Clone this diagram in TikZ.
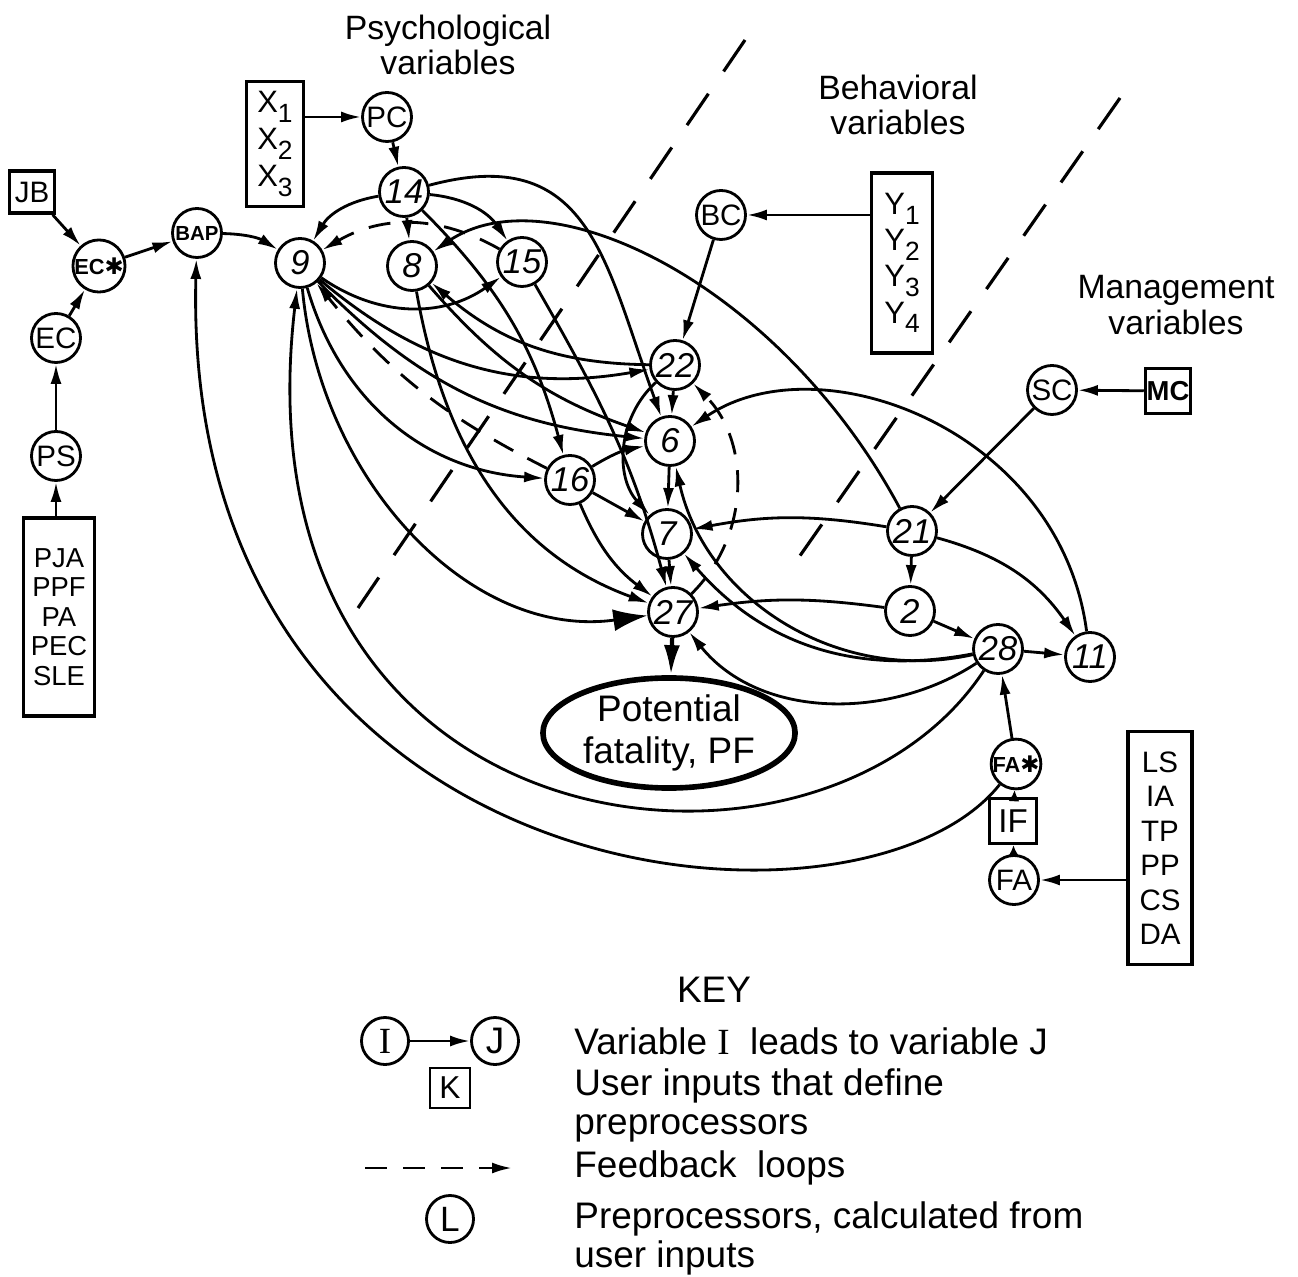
\documentclass[tikz,border=0pt]{standalone}
\usepackage{fontspec}
\setmainfont{Liberation Sans}
\newfontfamily\romanI{Liberation Serif}
\newfontfamily\starfont{DejaVu Sans}
\usetikzlibrary{positioning, calc, shapes.geometric, arrows.meta}
\newcommand{\dn}[1]{\raisebox{-0.6ex}{\fontsize{7.5}{7.5}\selectfont #1}}
\newcommand{\heavystar}{{\starfont\fontsize{6.5}{6.5}\selectfont ✱}}

\begin{document}
\begin{tikzpicture}[x=0.01cm, y=0.01cm, line width=0.8pt,
	>={Latex[length=2mm,width=1.1mm]},
	var/.style={shape=circle, draw=black, minimum size=0.49cm, inner sep=0pt, font=\fontsize{9.8}{9.8}\selectfont\itshape},
	pre/.style={shape=circle, draw=black, minimum size=0.49cm, inner sep=0pt, font=\fontsize{8.4}{8.4}\selectfont},
	prestar/.style={pre, font=\fontsize{6.2}{6.2}\selectfont\bfseries},
	inbox/.style={shape=rectangle, draw=black, line width=1pt, inner sep=0pt, align=center},
	feedback/.style={dash pattern=on 2.2mm off 1.6mm},
	bighead/.style={-{Latex[length=3.4mm,width=2.2mm]}},
	stub/.style={-{Latex[length=1.1mm,width=1.1mm]}},
	heading/.style={align=center, font=\fontsize{9.6}{10}\selectfont},
	keytext/.style={anchor=west, align=left, inner xsep=0pt, font=\fontsize{10.5}{11.1}\selectfont},
	splitter/.style={line width=0.9pt, dash pattern=on 0.38cm off 0.27cm}]

	\useasboundingbox (0,0) rectangle (1298,-1277);

	\node[heading] (psy) at (448,-45) {Psychological\\variables};
	\node[heading] (beh) at (898,-105) {Behavioral\\variables};
	\node[heading] (man) at (1176,-305) {Management\\variables};

	\coordinate (cutAtop) at (745,-40);
	\coordinate (cutAbot) at (358,-608);
	\coordinate (cutBtop) at (1120,-98);
	\coordinate (cutBbot) at (790,-570);
	\draw[splitter] (cutAtop) -- (cutAbot);
	\draw[splitter] (cutBtop) -- (cutBbot);

	\node[pre] (pc) at (387,-117) {PC};
	\node[var] (n14) at (404,-192) {14};
	\node[var] (n9) at (300,-263) {9};
	\node[var] (n8) at (412,-266) {8};
	\node[var] (n15) at (522,-262) {15};
	\node[pre] (bc) at (721,-215) {BC};
	\node[var] (n22) at (675,-365) {22};
	\node[var] (n6) at (670,-441) {6};
	\node[var] (n16) at (570,-480) {16};
	\node[var] (n7) at (667,-534) {7};
	\node[var] (n27) at (673,-612) {27};
	\node[var] (n21) at (912,-531) {21};
	\node[var] (n2) at (910,-611) {2};
	\node[var] (n28) at (998,-649) {28};
	\node[var] (n11) at (1090,-657) {11};
	\node[pre] (sc) at (1052,-390) {SC};
	\node[inbox, minimum width=0.45cm, minimum height=0.45cm, font=\fontsize{7.8}{7.8}\selectfont\bfseries] (mc) at (1168,-391) {MC};
	\node[inbox, minimum width=0.45cm, minimum height=0.42cm, font=\fontsize{8.4}{8.4}\selectfont] (jb) at (32,-192) {JB};
	\node[prestar] (ecs) at (99,-266) {EC\heavystar};
	\node[prestar, font=\fontsize{5.8}{5.8}\selectfont\bfseries] (bap) at (197,-233) {BAP};
	\node[pre] (ec) at (56,-338) {EC};
	\node[pre] (ps) at (56,-456) {PS};
	\node[inbox, minimum width=0.71cm, minimum height=1.98cm, font=\fontsize{7.8}{8.4}\selectfont] (pja) at (59,-617) {PJA\\PPF\\PA\\PEC\\SLE};
	\node[inbox, minimum width=0.57cm, minimum height=1.25cm, font=\fontsize{8.8}{10.5}\selectfont] (xin) at (275,-144) {X\dn{1}\\X\dn{2}\\X\dn{3}};
	\node[inbox, minimum width=0.61cm, minimum height=1.8cm, font=\fontsize{8.8}{10.3}\selectfont] (yin) at (902,-263) {Y\dn{1}\\Y\dn{2}\\Y\dn{3}\\Y\dn{4}};
	\node[inbox, minimum width=0.64cm, minimum height=2.33cm, font=\fontsize{8.4}{9.8}\selectfont] (lsin) at (1160,-848) {LS\\IA\\TP\\PP\\CS\\DA};
	\node[prestar] (fas) at (1016,-764) {FA\heavystar};
	\node[inbox, minimum width=0.47cm, minimum height=0.45cm, font=\fontsize{9.4}{9.4}\selectfont] (iff) at (1013,-821) {IF};
	\node[pre] (fa) at (1014,-880) {FA};
	\node[shape=ellipse, draw=black, line width=1.6pt, minimum width=2.52cm, minimum height=1.1cm, inner sep=0pt, align=center, font=\fontsize{10.5}{11.7}\selectfont] (pf) at (669,-733) {Potential\\fatality, PF};

	\path [->] (xin.east |- pc) edge (pc);
	\path [->] (pc) edge (n14);
	\path [->] (jb) edge (ecs);
	\path [->] (ec) edge (ecs);
	\path [->] (ps) edge (ec);
	\path [->] (ps |- pja.north) edge (ps);
	\path [->] (ecs) edge (bap);
	\path [->] (bap) edge[bend left=15] (n9);
	\path [->] (yin.west |- bc) edge (bc);
	\path [->] (bc) edge (n22);
	\path [->] (mc) edge (sc);
	\path [->] (sc) edge (n21);
	\path [->] (lsin.west |- fa) edge (fa);
	\path [stub] (fa) edge (iff);
	\path [stub] (iff) edge (fas);
	\path [->] (fas) edge (n28);
	\path [-{Latex[length=3mm,width=1.6mm]}, line width=1.2pt] (n27) edge (pf);

	\path [->] (n14) edge[bend right=25] (n9);
	\path [->] (n14) edge (n8);
	\path [->] (n14) edge[bend left=25] (n15);
	\path [->] (n14) edge[bend left=15] (n16);
	\path [->] (n14) edge[out=15, in=110, looseness=1.3] (n6);
	\path [->] (n9) edge[bend right=35] (n15);
	\path [->] (n9) edge[bend right=25] (n22);
	\path [->] (n9) edge[bend right=20] (n6);
	\path [->] (n9) edge[bend right=35] (n16);
	\path [->] (n8) edge[bend right=15] (n6);
	\path [->] (n8) edge[out=-80, in=160] (n27);
	\path [->] (n15) edge[out=-60, in=105] (n27);
	\path [->, feedback] (n15) edge[bend right=30] (n9);
	\path [->, feedback] (n16) edge[bend left=12] (n9);
	\draw [bighead] (n9) .. controls (320,-480) and (470,-640) .. (n27);

	\path [->] (n22) edge (n6);
	\path [->] (n22) edge[bend left=20] (n8);
	\path [->] (n22) edge[bend right=45] (n7);
	\path [->] (n16) edge[bend left=10] (n6);
	\path [->] (n16) edge (n7);
	\path [->] (n16) edge[bend right=15] (n27);
	\path [->] (n6) edge (n7);
	\path [->] (n7) edge (n27);
	\path [->, feedback] (n27) edge[bend right=45] (n22);
	\draw [->] (n21) .. controls (780,-285) and (550,-172) .. (n8);
	\path [->] (n21) edge[bend right=10] (n7);
	\path [->] (n21) edge (n2);
	\path [->] (n21) edge[bend left=20] (n11);
	\path [->] (n2) edge[bend right=8] (n27);
	\path [->] (n2) edge (n28);
	\path [->] (n28) edge (n11);
	\path [->] (n28) edge[bend left=30] (n7);
	\path [->] (n28) edge[bend left=45] (n6);
	\draw [->] (n28) .. controls (890,-720) and (760,-720) .. (n27);
	\draw [->] (n28) .. controls (820,-920) and (230,-860) .. (n9);
	\draw [->] (n11) .. controls (1060,-430) and (820,-340) .. (n6);
	\draw [->] (fas) .. controls (860,-960) and (180,-900) .. (bap);

	\node[font=\fontsize{10.5}{10.5}\selectfont] (keyhead) at (714,-990) {KEY};
	\node[pre, minimum size=0.47cm, font=\romanI\fontsize{10.5}{10.5}\selectfont] (keyi) at (385,-1041) {I};
	\node[pre, minimum size=0.47cm, font=\fontsize{10.5}{10.5}\selectfont] (keyj) at (495,-1041) {J};
	\path [->] (keyi) edge (keyj);
	\node[inbox, line width=0.8pt, minimum size=0.4cm, font=\fontsize{9}{9}\selectfont] (keyk) at (450,-1088) {K};
	\coordinate (fbstart) at (365,-1168);
	\coordinate (fbend) at (512,-1168);
	\path [->, feedback] (fbstart) edge (fbend);
	\node[pre, minimum size=0.47cm, font=\fontsize{10}{10}\selectfont] (keyl) at (450,-1219) {L};

	\node[keytext] (keyone) at (573,-1041) {Variable {\romanI I}\ \ leads to variable J};
	\node[keytext] (keytwo) at (573,-1105) {User inputs that define\\preprocessors};
	\node[keytext] (keythree) at (573,-1168) {Feedback\ \ loops};
	\node[keytext] (keyfour) at (573,-1238) {Preprocessors, calculated from\\user inputs};
\end{tikzpicture}
\end{document}
